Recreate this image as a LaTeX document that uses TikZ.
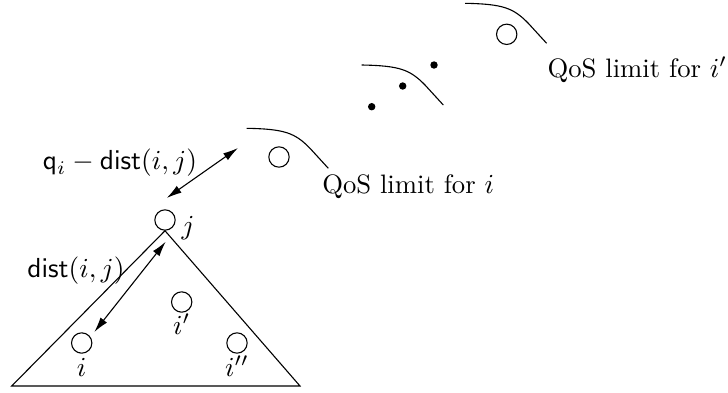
\documentclass[tikz,border=0pt]{standalone}
\usetikzlibrary{arrows.meta}
\begin{document}
\begin{tikzpicture}[x=0.3636pt,y=-0.3636pt,
  every node/.style={font=\fontsize{9.7}{11.6}\selectfont},
  site/.style={circle,draw,inner sep=0pt,minimum size=7.4pt},
  dotm/.style={circle,fill,inner sep=0pt,minimum size=2.7pt},
  lbl/.style={inner sep=0pt},
  dbl/.style={{Latex[length=5.5pt,width=3pt]}-{Latex[length=5.5pt,width=3pt]}},
  limit/.style={line width=0.4pt}]
\useasboundingbox (0,0) rectangle (728,392);
% tree nodes
\node[site] (j) at (165,220) {};
\node[site] (i) at (81.7,343) {};
\node[site] (ip) at (181.7,302) {};
\node[site] (ipp) at (237,343) {};
\node[lbl] (jl) at (188,228) {$j$};
\node[lbl] (il) at (81.7,367) {$i$};
\node[lbl] (ipl) at (181.7,324) {$i'$};
\node[lbl] (ippl) at (237,366) {$i''$};
% triangle
\coordinate (bl) at (11.7,386);
\coordinate (br) at (300,386);
\draw (j.south) -- (bl) -- (br) -- cycle;
% QoS curves
\draw[limit] (246.7,128.3) .. controls (285,129) and (295,133) .. (310,148.3) -- (328.3,168.3);
\draw[limit] (361.7,65) .. controls (400,65.7) and (410,69.7) .. (425,85) -- (443.3,105);
\draw[limit] (465,3.3) .. controls (503.3,4) and (513.3,8) .. (528.3,23.3) -- (546.6,43.3);
% QoS sites
\node[site] (q1) at (279,157) {};
\node[site] (q3) at (506.7,34.3) {};
\node[dotm] (d1) at (371.7,106.7) {};
\node[dotm] (d2) at (402.7,86) {};
\node[dotm] (d3) at (434,65) {};
\node[lbl,anchor=base west] (t1) at (321.7,193) {QoS limit for $i$};
\node[lbl,anchor=base west] (t3) at (547,77) {QoS limit for $i'$};
% arrows
\coordinate (a1) at (165.7,241.7);
\coordinate (a2) at (94.3,332);
\draw[dbl] (a1) -- (a2);
\coordinate (b1) at (166.7,198);
\coordinate (b2) at (238,148);
\draw[dbl] (b1) -- (b2);
\node[lbl] (dl) at (76,271) {$\mathsf{dist}(i,j)$};
\node[lbl] (ql) at (120,163) {$\mathsf{q}_i-\mathsf{dist}(i,j)$};
\end{tikzpicture}
\end{document}
